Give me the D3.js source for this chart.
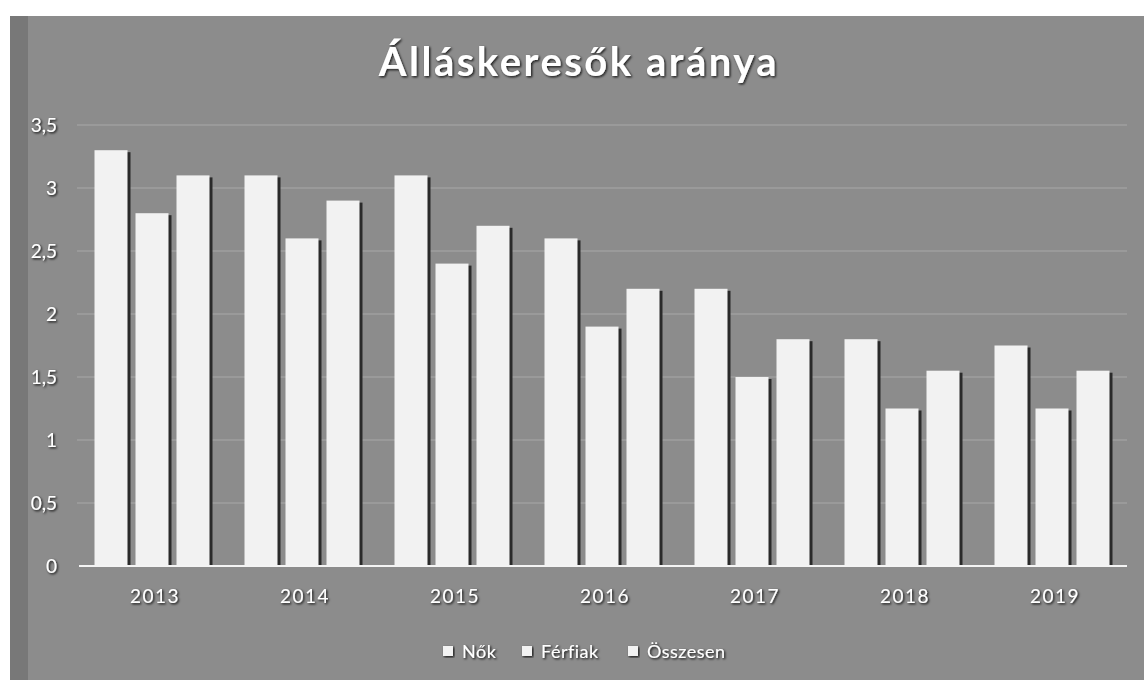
<!DOCTYPE html>
<html><head><meta charset="utf-8">
<script src="https://cdn.jsdelivr.net/npm/d3@7/dist/d3.min.js"></script>
<style>html,body{margin:0;padding:0;background:#fff;}svg{display:block;}</style>
</head><body>
<svg id="chart" width="1144" height="680"></svg>
<script>
const title = "Álláskeresők aránya";
const years = ["2013","2014","2015","2016","2017","2018","2019"];
const seriesNames = ["Nők","Férfiak","Összesen"];
const nok = [3.3, 3.1, 3.1, 2.6, 2.2, 1.8, 1.75];
const ferfiak = [2.8, 2.6, 2.4, 1.9, 1.5, 1.25, 1.25];
const osszesen = [3.1, 2.9, 2.7, 2.2, 1.8, 1.55, 1.55];
const yTicks = [0, 0.5, 1, 1.5, 2, 2.5, 3, 3.5];

const seriesValues = [nok, ferfiak, osszesen];
const svg = d3.select("#chart");
const W = 1144, H = 680;
const fontFam = "Lato, 'Open Sans', sans-serif";

// defs
const defs = svg.append("defs");
const f = defs.append("filter").attr("id","ts").attr("x","-20%").attr("y","-20%").attr("width","140%").attr("height","140%");
f.append("feDropShadow").attr("dx",1.2).attr("dy",1.2).attr("stdDeviation",0.8).attr("flood-color","#111").attr("flood-opacity",0.95);

// background panel
svg.append("rect").attr("x",10).attr("y",16).attr("width",W-10).attr("height",H-16).attr("fill","#8c8c8c");
svg.append("rect").attr("x",10).attr("y",16).attr("width",18).attr("height",H-16).attr("fill","#787878");

const x0 = d3.scaleBand().domain(years).range([77, 1127]).paddingInner(0).paddingOuter(0);
const x1 = d3.scaleBand().domain(seriesNames).range([0, x0.bandwidth()]).paddingInner(0.195).paddingOuter(0.427);
const y = d3.scaleLinear().domain([0, 3.5]).range([566, 125]);

// gridlines
svg.append("g").selectAll("line").data(yTicks.filter(t=>t>0)).join("line")
  .attr("x1", 77).attr("x2", 1127)
  .attr("y1", d=>y(d)).attr("y2", d=>y(d))
  .attr("stroke","#b4b4b4").attr("stroke-width",1).attr("opacity",0.7);

// bars
const groups = svg.append("g").selectAll("g").data(years).join("g")
  .attr("transform", d=>`translate(${x0(d)},0)`);
groups.each(function(yr, i){
  const g = d3.select(this);
  seriesNames.forEach((s, j) => {
    const v = seriesValues[j][i];
    g.append("rect").attr("x", x1(s)+3).attr("y", y(v)+2)
      .attr("width", x1.bandwidth()).attr("height", y(0)-y(v)-2)
      .attr("fill","#2a2a2a");
    g.append("rect").attr("x", x1(s)).attr("y", y(v))
      .attr("width", x1.bandwidth()).attr("height", y(0)-y(v))
      .attr("fill","#f2f2f2");
  });
});

// x axis line
svg.append("line").attr("x1",79).attr("x2",1127).attr("y1",y(0)).attr("y2",y(0))
  .attr("stroke","#f4f4f4").attr("stroke-width",2);

// y axis labels
const yAxis = d3.axisLeft(y).tickValues(yTicks).tickSize(0)
  .tickFormat(d => String(d).replace(".", ","));
const ya = svg.append("g").attr("transform","translate(60,0)").call(yAxis);
ya.select(".domain").remove();
ya.selectAll("text").attr("fill","#fff").attr("font-family",fontFam).attr("font-size",19)
  .attr("filter","url(#ts)");

// x axis labels
const xAxis = d3.axisBottom(x0).tickSize(0);
const xa = svg.append("g").attr("transform",`translate(3,${y(0)+20})`).call(xAxis);
xa.select(".domain").remove();
xa.selectAll("text").attr("fill","#fff").attr("font-family",fontFam).attr("font-size",19)
  .attr("letter-spacing",1.5).attr("filter","url(#ts)");

// title
svg.append("text").attr("x",579).attr("y",76).attr("text-anchor","middle")
  .attr("font-family",fontFam).attr("font-weight","bold").attr("font-size",40)
  .attr("letter-spacing",2.5)
  .attr("fill","#fff").attr("filter","url(#ts)").text(title);

// legend
const legX = [443, 522, 628];
const leg = svg.append("g");
seriesNames.forEach((s, j) => {
  leg.append("rect").attr("x", legX[j]).attr("y", 646).attr("width",10).attr("height",10)
    .attr("fill","#f2f2f2").attr("filter","url(#ts)");
  leg.append("text").attr("x", legX[j]+19).attr("y", 658)
    .attr("font-family",fontFam).attr("font-size",18).attr("letter-spacing",0.5).attr("fill","#fff")
    .attr("filter","url(#ts)").text(s);
});
</script>
</body></html>
